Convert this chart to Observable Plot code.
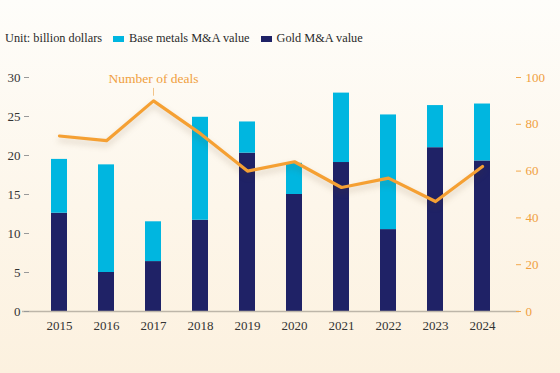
<!DOCTYPE html>
<html>
<head>
<meta charset="utf-8">
<script src="https://cdn.jsdelivr.net/npm/d3@7"></script>
<script src="https://cdn.jsdelivr.net/npm/@observablehq/plot@0.6"></script>
<style>
  html, body { margin: 0; padding: 0; }
  body {
    width: 560px; height: 373px; overflow: hidden; position: relative;
    background: linear-gradient(to bottom, #fefdfa 0%, #fdf6ea 55%, #fcf1df 100%);
    font-family: "Liberation Serif", "DejaVu Serif", serif;
  }
  #legend {
    position: absolute; left: 5px; top: 31px; font-size: 12.3px; color: #2a2a2a;
    display: flex; align-items: center; white-space: nowrap;
  }
  #legend .sw { display: inline-block; width: 11px; height: 6px; margin: 0 5px 0 0; }
  #legend .item { display: inline-flex; align-items: center; margin-left: 11px; }
  #chart { position: absolute; left: 0; top: 0; }
</style>
</head>
<body>
<div id="legend">
  <span>Unit: billion dollars</span>
  <span class="item"><span class="sw" style="background:#00b6e0"></span>Base metals M&amp;A value</span>
  <span class="item"><span class="sw" style="background:#1f2266"></span>Gold M&amp;A value</span>
</div>
<div id="chart"></div>
<script>
const years = [2015, 2016, 2017, 2018, 2019, 2020, 2021, 2022, 2023, 2024];
const gold = [12.6, 5.0, 6.4, 11.7, 20.3, 15.0, 19.1, 10.5, 21.0, 19.3];
const baseMetals = [6.9, 13.8, 5.1, 13.2, 4.0, 4.0, 8.9, 14.7, 5.4, 7.3];
const deals = [75, 73, 90, 76, 60, 64, 53, 57, 47, 62];
const leftTicks = [0, 5, 10, 15, 20, 25, 30];
const rightTicks = [0, 20, 40, 60, 80, 100];
const ratio = 30 / 100;

const stacked = [];
years.forEach((y, i) => {
  stacked.push({year: y, series: "Gold M&A value", value: gold[i]});
  stacked.push({year: y, series: "Base metals M&A value", value: baseMetals[i]});
});
const dealRows = years.map((y, i) => ({year: y, deals: deals[i], yv: deals[i] * ratio}));
const labelRow = dealRows.filter(d => d.year === 2017);

const chart = Plot.plot({
  width: 560,
  height: 373,
  marginTop: 77,
  marginBottom: 62,
  marginLeft: 22,
  marginRight: 41,
  style: {background: "transparent", fontFamily: "Liberation Serif, DejaVu Serif, serif", fontSize: "13px"},
  x: {type: "band", domain: years, paddingInner: 0.67, paddingOuter: 0.62, label: null},
  y: {domain: [0, 30], label: null},
  color: {domain: ["Gold M&A value", "Base metals M&A value"], range: ["#1f2266", "#00b6e0"]},
  marks: [
    Plot.barY(stacked, {x: "year", y: "value", fill: "series", order: ["Gold M&A value", "Base metals M&A value"]}),
    Plot.ruleY([0], {stroke: "#bdb6a9", strokeWidth: 1.5}),
    Plot.axisY({anchor: "left", ticks: leftTicks, tickSize: 5, tickPadding: 4, dx: 7, stroke: "#999", color: "#333", fontSize: 13, label: null}),
    Plot.axisY({anchor: "right", ticks: rightTicks.map(v => v * ratio), tickFormat: d => Math.round(d / ratio), tickSize: 5, tickPadding: 5, dx: -4, stroke: "#f3a94e", color: "#f0a040", fontSize: 13, label: null}),
    Plot.axisX({tickSize: 0, tickPadding: 9, tickFormat: d => String(d), color: "#333", fontSize: 13, label: null}),
    Plot.lineY(dealRows, {x: "year", y: "yv", stroke: "#f5a033", strokeWidth: 3.2, curve: "linear", imageFilter: "drop-shadow(0px 4px 3px rgba(90,60,20,0.22))"}),
    Plot.ruleX(labelRow, {x: "year", y1: d => d.yv + 0.6, y2: d => d.yv + 1.6, stroke: "#f2c48a", strokeWidth: 1}),
    Plot.text(labelRow, {x: "year", y: "yv", text: () => "Number of deals", dy: -22, fill: "#f0a040", fontSize: 13.5})
  ]
});
document.getElementById("chart").appendChild(chart);
</script>
</body>
</html>
